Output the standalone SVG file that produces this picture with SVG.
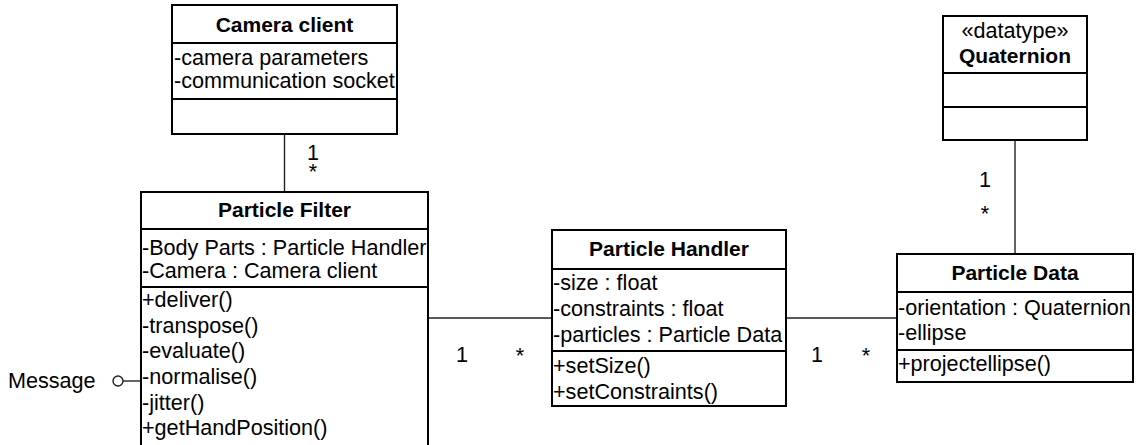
<svg xmlns="http://www.w3.org/2000/svg" width="1136" height="445" viewBox="0 0 1136 445">
<style>
.box{fill:#fff;stroke:#000;stroke-width:2}
.sep{stroke:#000;stroke-width:2}
.conn{stroke:#222;stroke-width:1.4;fill:none}
text{font-family:"Liberation Sans",Arial,sans-serif;font-size:21.6px;fill:#000}
.t{font-weight:bold;text-anchor:middle;font-size:21px}
.c{text-anchor:middle}
</style>
<rect width="1136" height="445" fill="#fff"/>
<g id="connectors">
<line class="conn" x1="284.5" y1="134" x2="284.5" y2="192"/>
<line class="conn" x1="428" y1="318" x2="552" y2="318"/>
<line class="conn" x1="786" y1="318" x2="897" y2="318"/>
<line class="conn" x1="1015" y1="140" x2="1015" y2="254"/>
<line class="conn" x1="123" y1="381" x2="141" y2="381"/>
<circle class="conn" cx="118" cy="381" r="5" fill="#fff"/>
<text x="313" y="160" class="c">1</text>
<text x="313" y="179" class="c">*</text>
<text x="462" y="362" class="c">1</text>
<text x="520" y="363" class="c">*</text>
<text x="817" y="362" class="c">1</text>
<text x="866" y="363" class="c">*</text>
<text x="985" y="187" class="c">1</text>
<text x="985" y="221" class="c">*</text>
<text x="8" y="388">Message</text>
</g>
<g id="camera-client">
<rect class="box" x="172" y="5" width="225" height="129"/>
<line class="sep" x1="172" y1="43" x2="397" y2="43"/>
<line class="sep" x1="172" y1="99" x2="397" y2="99"/>
<text x="284.5" y="32" class="t">Camera client</text>
<text x="174" y="65">-camera parameters</text>
<text x="174" y="88">-communication socket</text>
</g>
<g id="particle-filter">
<rect class="box" x="141" y="192" width="287" height="256"/>
<line class="sep" x1="141" y1="229" x2="428" y2="229"/>
<line class="sep" x1="141" y1="287" x2="428" y2="287"/>
<text x="284.5" y="217" class="t">Particle Filter</text>
<text x="142" y="255">-Body Parts : Particle Handler</text>
<text x="142" y="278">-Camera : Camera client</text>
<text x="142" y="307">+deliver()</text>
<text x="142" y="333">-transpose()</text>
<text x="142" y="358">-evaluate()</text>
<text x="142" y="384">-normalise()</text>
<text x="142" y="410">-jitter()</text>
<text x="142" y="435">+getHandPosition()</text>
</g>
<g id="particle-handler">
<rect class="box" x="552" y="230" width="234" height="176"/>
<line class="sep" x1="552" y1="269" x2="786" y2="269"/>
<line class="sep" x1="552" y1="351" x2="786" y2="351"/>
<text x="669" y="256" class="t">Particle Handler</text>
<text x="553" y="290">-size : float</text>
<text x="553" y="316">-constraints : float</text>
<text x="553" y="342">-particles : Particle Data</text>
<text x="553" y="373">+setSize()</text>
<text x="553" y="399">+setConstraints()</text>
</g>
<g id="quaternion">
<rect class="box" x="943" y="16" width="144" height="124"/>
<line class="sep" x1="943" y1="73" x2="1087" y2="73"/>
<line class="sep" x1="943" y1="107" x2="1087" y2="107"/>
<text x="1015" y="38" class="c">«datatype»</text>
<text x="1015" y="63" class="t">Quaternion</text>
</g>
<g id="particle-data">
<rect class="box" x="897" y="254" width="236" height="128"/>
<line class="sep" x1="897" y1="292" x2="1133" y2="292"/>
<line class="sep" x1="897" y1="350" x2="1133" y2="350"/>
<text x="1015" y="280" class="t">Particle Data</text>
<text x="898" y="315">-orientation : Quaternion</text>
<text x="898" y="340">-ellipse</text>
<text x="898" y="371">+projectellipse()</text>
</g>
</svg>
